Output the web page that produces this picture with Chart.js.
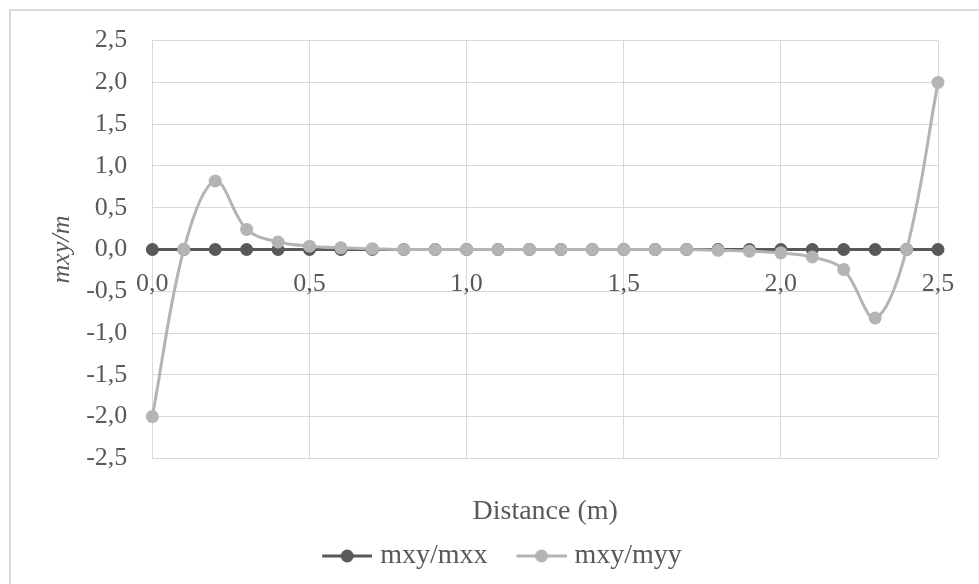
<!DOCTYPE html>
<html>
<head>
<meta charset="utf-8">
<script src="https://cdn.jsdelivr.net/npm/chart.js@4.4.1/dist/chart.umd.min.js"></script>
<style>
  html, body { margin: 0; padding: 0; background: #fff; }
  #wrap { position: relative; width: 979px; height: 584px; overflow: hidden; }
  #frame {
    position: absolute; left: 9px; top: 9px; width: 1000px; height: 1000px;
    border-left: 2px solid #d9d9d9; border-top: 2px solid #d9d9d9;
  }
  canvas { position: absolute; left: 0; top: 0; }
</style>
</head>
<body>
<div id="wrap">
  <div id="frame"></div>
  <canvas id="ratio-chart" width="979" height="584"></canvas>
</div>
<script>
"use strict";

// distance along the section (m)
const distance = [
  0.0, 0.1, 0.2, 0.3, 0.4, 0.5, 0.6, 0.7, 0.8, 0.9, 1.0, 1.1, 1.2,
  1.3, 1.4, 1.5, 1.6, 1.7, 1.8, 1.9, 2.0, 2.1, 2.2, 2.3, 2.4, 2.5,
];

// mxy/mxx ratio
const mxyMxx = [
  0, 0, 0, 0, 0, 0, 0, 0, 0, 0, 0, 0, 0,
  0, 0, 0, 0, 0, 0, 0, 0, 0, 0, 0, 0, 0,
];

// mxy/myy ratio
const mxyMyy = [
  -2.0, 0.0, 0.82, 0.24, 0.09, 0.04, 0.02, 0.01, 0.0, 0.0, 0.0, 0.0, 0.0,
  0.0, 0.0, 0.0, 0.0, 0.0, -0.01, -0.02, -0.04, -0.09, -0.24, -0.82, 0.0, 2.0,
];

const xTicks = [0, 0.5, 1.0, 1.5, 2.0, 2.5];
const yTicks = [-2.5, -2.0, -1.5, -1.0, -0.5, 0, 0.5, 1.0, 1.5, 2.0, 2.5];

const TEXT_COLOR = "#595959";
const GRID_COLOR = "#d9d9d9";
const DARK = "#595959";
const LIGHT = "#b4b4b4";
const FAMILY = "'Liberation Serif', 'Times New Roman', serif";
const TICK_FONT = { family: FAMILY, size: 26 };
const LABEL_FONT = { family: FAMILY, size: 28 };

// comma as decimal separator
const fmt = (value) => Number(value).toFixed(1).replace(".", ",");

const toPoints = (ys) => distance.map((x, i) => ({ x: x, y: ys[i] }));

const setTicks = (list) => (scale) => {
  scale.ticks = list.map((v) => ({ value: v }));
};

// legend marker: short line with a dot in the middle
// (left part of the canvas is left blank as spacing between items)
function makeLegendMark(color) {
  const c = document.createElement("canvas");
  c.width = 75;
  c.height = 16;
  const g = c.getContext("2d");
  g.strokeStyle = color;
  g.lineWidth = 3;
  g.beginPath();
  g.moveTo(25, 8);
  g.lineTo(75, 8);
  g.stroke();
  g.fillStyle = color;
  g.beginPath();
  g.arc(50, 8, 6.5, 0, Math.PI * 2);
  g.fill();
  return c;
}

const legendMarks = [makeLegendMark(DARK), makeLegendMark(LIGHT)];

function lineDataset(label, ys, color, order) {
  return {
    label: label,
    data: toPoints(ys),
    borderColor: color,
    backgroundColor: color,
    pointBackgroundColor: color,
    pointBorderColor: color,
    borderWidth: 3,
    pointRadius: 6.5,
    pointBorderWidth: 0,
    tension: 0.35,
    clip: false,
    order: order,
  };
}

new Chart(document.getElementById("ratio-chart"), {
  type: "line",
  data: {
    datasets: [
      lineDataset("mxy/mxx", mxyMxx, DARK, 1),
      lineDataset("mxy/myy", mxyMyy, LIGHT, 0),
    ],
  },
  options: {
    responsive: false,
    animation: false,
    layout: { padding: { top: 34, right: 41, left: 47, bottom: 4 } },
    scales: {
      x: {
        type: "linear",
        position: "bottom",
        min: 0,
        max: 2.5,
        afterBuildTicks: setTicks(xTicks),
        grid: { color: GRID_COLOR, lineWidth: 1, drawTicks: false },
        border: { display: false },
        ticks: { display: false },
        title: {
          display: true,
          text: "Distance (m)",
          color: TEXT_COLOR,
          font: LABEL_FONT,
          padding: { top: 36, bottom: 4 },
        },
      },
      // tick labels sit on the zero line
      xZero: {
        type: "linear",
        axis: "x",
        position: { y: 0 },
        min: 0,
        max: 2.5,
        afterBuildTicks: setTicks(xTicks),
        grid: { display: false, drawTicks: false },
        border: { display: false },
        ticks: { padding: 19, color: TEXT_COLOR, font: TICK_FONT, callback: fmt },
      },
      y: {
        min: -2.5,
        max: 2.5,
        afterBuildTicks: setTicks(yTicks),
        grid: { color: GRID_COLOR, lineWidth: 1, drawTicks: false },
        border: { display: false },
        ticks: { padding: 25, color: TEXT_COLOR, font: TICK_FONT, callback: fmt },
        title: {
          display: true,
          text: "mxy/m",
          color: TEXT_COLOR,
          font: Object.assign({}, TICK_FONT, { style: "italic" }),
          padding: { top: 0, bottom: -17 },
        },
      },
    },
    plugins: {
      tooltip: { enabled: false },
      legend: {
        position: "bottom",
        labels: {
          usePointStyle: true,
          pointStyleWidth: 63,
          padding: 10,
          color: TEXT_COLOR,
          font: LABEL_FONT,
          sort: (a, b) => a.datasetIndex - b.datasetIndex,
          generateLabels: function (chart) {
            const items = Chart.defaults.plugins.legend.labels.generateLabels(chart);
            items.forEach((item) => {
              item.pointStyle = legendMarks[item.datasetIndex];
            });
            return items;
          },
        },
      },
    },
  },
});
</script>
</body>
</html>
